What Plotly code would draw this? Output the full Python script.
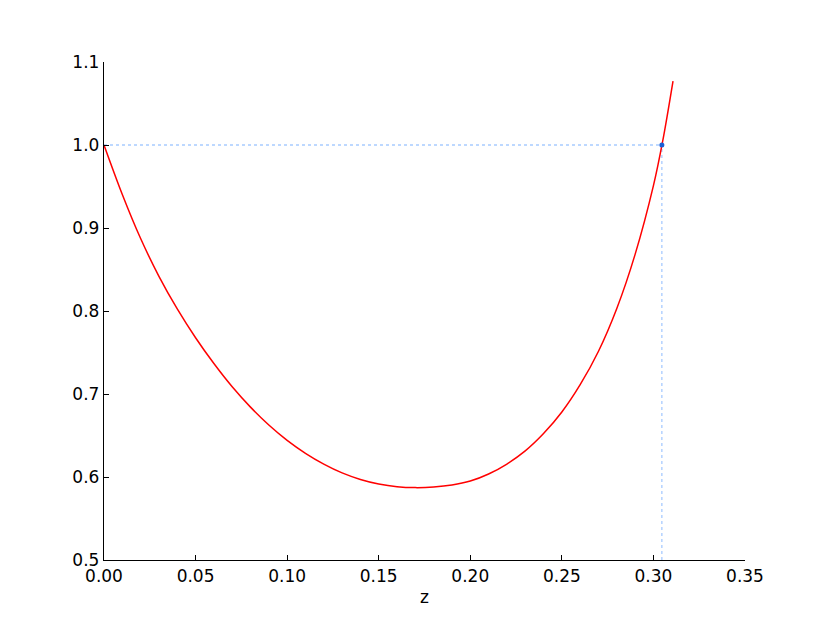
import plotly.graph_objects as go

# curve values (every 0.01 in z, plus the end of the line)
z = [0.00, 0.01, 0.02, 0.03, 0.04, 0.05, 0.06, 0.07, 0.08, 0.09,
     0.10, 0.11, 0.12, 0.13, 0.14, 0.15, 0.16, 0.17, 0.18, 0.19,
     0.20, 0.21, 0.22, 0.23, 0.24, 0.25, 0.26, 0.27, 0.28, 0.29,
     0.30, 0.305, 0.3107]
f = [1.0, 0.9404, 0.8873, 0.8418, 0.8025, 0.7678, 0.7367, 0.7087, 0.6842, 0.6627,
     0.6442, 0.6286, 0.6156, 0.6050, 0.5971, 0.5916, 0.5883, 0.5872, 0.5879, 0.5903,
     0.5951, 0.6036, 0.6156, 0.6314, 0.6523, 0.6783, 0.7112, 0.7515, 0.8030, 0.8682,
     0.951, 1.004, 1.077]

# the marked root
root_z = [0.3046]
root_f = [1.0]

x_ticks = [0.0, 0.05, 0.10, 0.15, 0.20, 0.25, 0.30, 0.35]
y_ticks = [0.5, 0.6, 0.7, 0.8, 0.9, 1.0, 1.1]

guide = dict(color="#a8cbff", width=1.3, dash="3px,3px")

fig = go.Figure()
fig.add_trace(go.Scatter(x=[0, root_z[0]], y=[root_f[0], root_f[0]], mode="lines",
                         line=guide, hoverinfo="skip"))
fig.add_trace(go.Scatter(x=[root_z[0], root_z[0]], y=[y_ticks[0], root_f[0]], mode="lines",
                         line=guide, hoverinfo="skip"))
fig.add_trace(go.Scatter(x=z, y=f, mode="lines",
                         line=dict(color="#ff0000", width=1.5, shape="spline", smoothing=1.0)))
fig.add_trace(go.Scatter(x=root_z, y=root_f, mode="markers",
                         marker=dict(color="#1a5fd6", size=5)))

axis_common = dict(
    showgrid=False, zeroline=False, showline=True, linecolor="black", linewidth=1.4,
    ticks="inside", ticklen=5, tickwidth=1, tickcolor="black",
    tickfont=dict(family="DejaVu Sans", size=17, color="black"),
)

# page body has an 8px margin, so the figure is a bit smaller than the window
fig.update_layout(
    width=814, height=607,
    margin=dict(l=96, r=77, t=54, b=55),
    paper_bgcolor="white", plot_bgcolor="white",
    showlegend=False,
    xaxis=dict(range=[0, 0.35], tickvals=x_ticks,
               ticktext=["%.2f" % v for v in x_ticks],
               title=dict(text="z", font=dict(family="DejaVu Sans", size=17, color="black"),
                          standoff=6),
               **axis_common),
    yaxis=dict(range=[0.5, 1.1], tickvals=y_ticks,
               ticktext=["%.1f" % v for v in y_ticks],
               **axis_common),
)

fig.write_html("out.html")
